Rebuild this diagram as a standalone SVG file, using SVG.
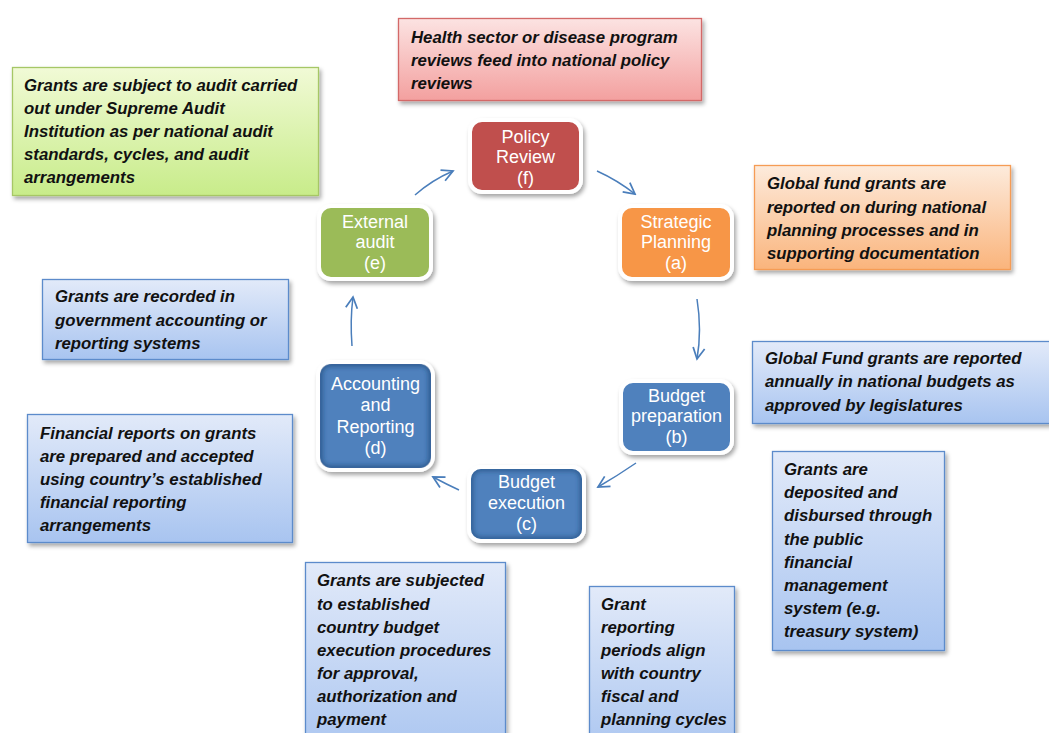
<svg xmlns="http://www.w3.org/2000/svg" width="1049" height="733" viewBox="0 0 1049 733">
<defs>
<linearGradient id="gPink" x1="0" y1="0" x2="0" y2="1"><stop offset="0" stop-color="#FCE3E2"/><stop offset="1" stop-color="#F3A09F"/></linearGradient>
<linearGradient id="gGreen" x1="0" y1="0" x2="0" y2="1"><stop offset="0" stop-color="#F1FAD6"/><stop offset="1" stop-color="#C8EC8A"/></linearGradient>
<linearGradient id="gOrange" x1="0" y1="0" x2="0" y2="1"><stop offset="0" stop-color="#FDEBDC"/><stop offset="1" stop-color="#FAB47C"/></linearGradient>
<linearGradient id="gBlue" x1="0" y1="0" x2="0" y2="1"><stop offset="0" stop-color="#E2EAF9"/><stop offset="1" stop-color="#A8C4F0"/></linearGradient>
<filter id="sh" x="-10%" y="-10%" width="125%" height="130%"><feDropShadow dx="2" dy="3" stdDeviation="2" flood-color="#000" flood-opacity="0.35"/></filter>
<filter id="bl" x="-10%" y="-10%" width="120%" height="120%"><feGaussianBlur stdDeviation="2"/></filter>
<marker id="ah" markerUnits="userSpaceOnUse" markerWidth="14" markerHeight="14" viewBox="0 0 12 12" refX="10.5" refY="6" orient="auto"><path d="M1,1 L10.5,6 L1,11" fill="none" stroke="#4A7EBB" stroke-width="1.5"/></marker>
<clipPath id="cAcc"><rect x="320" y="364" width="111" height="104" rx="10"/></clipPath>
<clipPath id="cExe"><rect x="471" y="469" width="111" height="70" rx="10"/></clipPath>
</defs>
<style>
.call{font-family:"Liberation Sans",Arial,sans-serif;font-weight:bold;font-style:italic;font-size:16.8px;fill:#111}
.nd{font-family:"Liberation Sans",Arial,sans-serif;font-size:18px;fill:#fff;text-anchor:middle}
.box{filter:url(#sh);stroke-width:1.3}
.node{stroke:#fff;stroke-width:4;filter:url(#sh)}
.conn{fill:none;stroke:#4A7EBB;stroke-width:1.5;marker-end:url(#ah)}
</style>

<g id="note-policy">
<rect class="box" x="398.5" y="18.5" width="303" height="82" fill="url(#gPink)" stroke="#D36967"/>
<text class="call" x="411"><tspan x="411" y="43">Health sector or disease program</tspan><tspan x="411" y="66">reviews feed into national policy</tspan><tspan x="411" y="89">reviews</tspan></text>
</g>
<g id="note-audit">
<rect class="box" x="12.5" y="67.5" width="306" height="128" fill="url(#gGreen)" stroke="#A6C766"/>
<text class="call"><tspan x="24" y="91">Grants are subject to audit carried</tspan><tspan x="24" y="114">out under Supreme Audit</tspan><tspan x="24" y="137">Institution as per national audit</tspan><tspan x="24" y="160">standards, cycles, and audit</tspan><tspan x="24" y="183">arrangements</tspan></text>
</g>
<g id="note-planning">
<rect class="box" x="754.5" y="165.5" width="256" height="104" fill="url(#gOrange)" stroke="#F59C55"/>
<text class="call"><tspan x="767" y="189">Global fund grants are</tspan><tspan x="767" y="213">reported on during national</tspan><tspan x="767" y="236">planning processes and in</tspan><tspan x="767" y="259">supporting documentation</tspan></text>
</g>
<g id="note-budget">
<rect class="box" x="752.5" y="341.5" width="310" height="82" fill="url(#gBlue)" stroke="#5B8BCB"/>
<text class="call"><tspan x="765" y="364">Global Fund grants are reported</tspan><tspan x="765" y="387">annually in national budgets as</tspan><tspan x="765" y="411">approved by legislatures</tspan></text>
</g>
<g id="note-deposit">
<rect class="box" x="772.5" y="451.5" width="172" height="199" fill="url(#gBlue)" stroke="#5B8BCB"/>
<text class="call"><tspan x="784" y="475">Grants are</tspan><tspan x="784" y="498">deposited and</tspan><tspan x="784" y="521">disbursed through</tspan><tspan x="784" y="545">the public</tspan><tspan x="784" y="568">financial</tspan><tspan x="784" y="591">management</tspan><tspan x="784" y="614">system (e.g.</tspan><tspan x="784" y="637">treasury system)</tspan></text>
</g>
<g id="note-recorded">
<rect class="box" x="42.5" y="279.5" width="246" height="80" fill="url(#gBlue)" stroke="#5B8BCB"/>
<text class="call"><tspan x="55" y="302">Grants are recorded in</tspan><tspan x="55" y="326">government accounting or</tspan><tspan x="55" y="349">reporting systems</tspan></text>
</g>
<g id="note-financial">
<rect class="box" x="27.5" y="414.5" width="265" height="128" fill="url(#gBlue)" stroke="#5B8BCB"/>
<text class="call"><tspan x="40" y="439">Financial reports on grants</tspan><tspan x="40" y="462">are prepared and accepted</tspan><tspan x="40" y="485">using country’s established</tspan><tspan x="40" y="508">financial reporting</tspan><tspan x="40" y="531">arrangements</tspan></text>
</g>
<g id="note-execution">
<rect class="box" x="305.5" y="562.5" width="200" height="200" fill="url(#gBlue)" stroke="#5B8BCB"/>
<text class="call"><tspan x="317" y="586">Grants are subjected</tspan><tspan x="317" y="610">to established</tspan><tspan x="317" y="633">country budget</tspan><tspan x="317" y="656">execution procedures</tspan><tspan x="317" y="679">for approval,</tspan><tspan x="317" y="702">authorization  and</tspan><tspan x="317" y="725">payment</tspan></text>
</g>
<g id="note-periods">
<rect class="box" x="589.5" y="586.5" width="145" height="176" fill="url(#gBlue)" stroke="#5B8BCB"/>
<text class="call"><tspan x="601" y="610">Grant</tspan><tspan x="601" y="633">reporting</tspan><tspan x="601" y="656">periods align</tspan><tspan x="601" y="679">with country</tspan><tspan x="601" y="702">fiscal and</tspan><tspan x="601" y="725">planning cycles</tspan></text>
</g>

<g id="connectors">
<path class="conn" d="M597,171 Q617,180 635,194"/>
<path class="conn" d="M697,299 Q702,330 697,359"/>
<path class="conn" d="M636,463 Q617,476 598,487"/>
<path class="conn" d="M459,490 Q446,484 433,477"/>
<path class="conn" d="M352,346 Q350,320 353,297"/>
<path class="conn" d="M415,195 Q432,180 453,171"/>
</g>

<g id="node-f">
<rect class="node" x="470" y="120" width="111" height="72" rx="12" fill="#C0504D"/>
<text class="nd"><tspan x="525.5" y="143">Policy</tspan><tspan x="525.5" y="163">Review</tspan><tspan x="525.5" y="184">(f)</tspan></text>
</g>
<g id="node-a">
<rect class="node" x="620" y="206" width="112" height="73" rx="12" fill="#F79646"/>
<text class="nd"><tspan x="676" y="228">Strategic</tspan><tspan x="676" y="248">Planning</tspan><tspan x="676" y="269">(a)</tspan></text>
</g>
<g id="node-b">
<rect class="node" x="621" y="381" width="111" height="72" rx="12" fill="#4F81BD"/>
<text class="nd"><tspan x="676.5" y="402">Budget</tspan><tspan x="676.5" y="422">preparation</tspan><tspan x="676.5" y="443">(b)</tspan></text>
</g>
<g id="node-c">
<rect class="node" x="469" y="467" width="115" height="74" rx="12" fill="#4F81BD"/>
<rect x="471" y="469" width="111" height="70" rx="10" fill="none" stroke="#22497A" stroke-width="5" stroke-opacity="0.6" filter="url(#bl)" clip-path="url(#cExe)"/>
<text class="nd"><tspan x="526.5" y="488">Budget</tspan><tspan x="526.5" y="509">execution</tspan><tspan x="526.5" y="530">(c)</tspan></text>
</g>
<g id="node-d">
<rect class="node" x="318" y="362" width="115" height="108" rx="14" fill="#4F81BD"/>
<rect x="320" y="364" width="111" height="104" rx="10" fill="none" stroke="#22497A" stroke-width="6" stroke-opacity="0.6" filter="url(#bl)" clip-path="url(#cAcc)"/>
<text class="nd"><tspan x="375.5" y="390">Accounting</tspan><tspan x="375.5" y="411">and</tspan><tspan x="375.5" y="433">Reporting</tspan><tspan x="375.5" y="454">(d)</tspan></text>
</g>
<g id="node-e">
<rect class="node" x="319" y="206" width="112" height="73" rx="12" fill="#9BBB59"/>
<text class="nd"><tspan x="375" y="228">External</tspan><tspan x="375" y="248">audit</tspan><tspan x="375" y="269">(e)</tspan></text>
</g>
</svg>
